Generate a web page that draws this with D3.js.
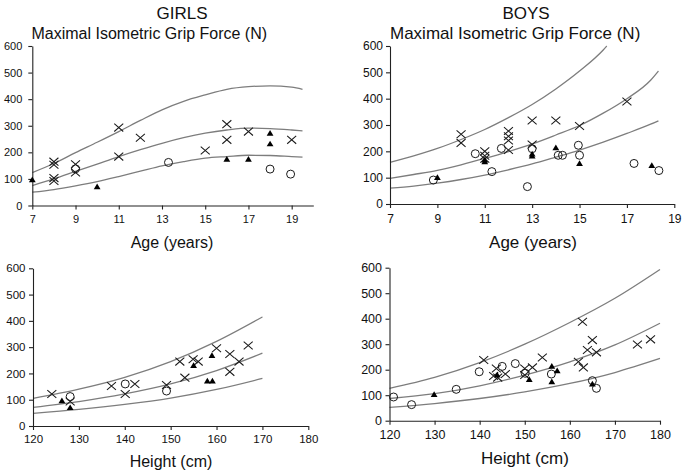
<!DOCTYPE html>
<html>
<head>
<meta charset="utf-8">
<script src="https://cdn.jsdelivr.net/npm/d3@7"></script>
<style>
  html, body { margin: 0; padding: 0; background: #fff; }
  svg { display: block; font-family: "Liberation Sans", Arial, Helvetica, sans-serif; }
</style>
</head>
<body>
<svg id="chart" width="685" height="474"></svg>
<script>
// ---------------- DATA ----------------
const forceTicks = [0, 100, 200, 300, 400, 500, 600];
const ageTicks = [7, 9, 11, 13, 15, 17, 19];
const heightTicks = [120, 130, 140, 150, 160, 170, 180];

// Girls – force vs age: reference curves
const girlsAgeCurveX = [7, 8, 9, 10, 11, 12, 13, 14, 15, 16, 17, 18, 19, 19.5];
const girlsAgeUpper  = [124, 158, 199, 238, 278, 320, 360, 392, 416, 437, 447, 450, 445, 437];
const girlsAgeMiddle = [75, 100, 128, 156, 184, 210, 234, 255, 272, 284, 291, 289, 284, 281];
const girlsAgeLower  = [50, 60, 74, 90, 109, 129, 149, 165, 178, 184, 189, 188, 184, 182];
// Girls – force vs age: individual values [age, force]
const girlsAgeCrosses = [[8,165],[8,153],[8,103],[8,92],[9,155],[9,124],[11,293],[11,184],[12,255],[15,207],[16,306],[16,247],[17,278],[19,247]];
const girlsAgeCircles = [[9,138],[13.3,162],[18,137],[18.95,118]];
const girlsAgeTriangles = [[7,97],[10,71],[16,174],[17,174],[18,272],[18,232]];

// Boys – force vs age: reference curves
const boysAgeUpperX  = [7, 8, 9, 10, 11, 12, 13, 14, 15, 16, 16.15];
const boysAgeUpper   = [158, 183, 211, 245, 283, 328, 378, 437, 505, 585, 600];
const boysAgeCurveX  = [7, 8, 9, 10, 11, 12, 13, 14, 15, 16, 17, 18, 18.33];
const boysAgeMiddle  = [97, 112, 128, 149, 173, 199, 228, 262, 298, 345, 400, 470, 505];
const boysAgeLower   = [60, 68, 79, 93, 110, 130, 152, 178, 205, 235, 268, 303, 316];
// Boys – force vs age: individual values
const boysAgeCrosses = [[10,265],[10,232],[11,200],[11,183],[11,172],[12,277],[12,257],[12,241],[12,205],[13,317],[13,226],[14,317],[15,296],[17,389]];
const boysAgeCircles = [[8.83,91],[10.6,191],[11.3,123],[11.7,211],[12.8,66],[13,210],[14.1,185],[14.28,185],[14.95,223],[15,185],[17.3,154],[18.35,127]];
const boysAgeTriangles = [[9,101],[11,167],[11,160],[13,190],[13,182],[14,214],[15,154],[18.05,146]];

// Girls – force vs height: reference curves
const girlsHeightCurveX = [120, 130, 140, 150, 160, 170];
const girlsHeightUpper  = [105, 140, 185, 245, 322, 415];
const girlsHeightMiddle = [71, 93, 122, 160, 211, 277];
const girlsHeightLower  = [48, 63, 82, 106, 139, 181];
// Girls – force vs height: individual values [height, force]
const girlsHeightCrosses = [[124.1,122],[128.1,93],[137.1,152],[140.1,122],[142.2,160],[149.1,156],[152,245],[153.1,184],[154.9,254],[156,245],[160,296],[162.9,274],[162.9,206],[164.9,245],[166.9,306]];
const girlsHeightCircles = [[128.1,112],[140.1,160],[149.1,133]];
const girlsHeightTriangles = [[126.3,96],[128.1,70],[155,230],[159,268],[158,171],[159.1,171]];

// Boys – force vs height: reference curves
const boysHeightCurveX = [120, 130, 140, 150, 160, 170, 180];
const boysHeightUpper  = [127, 170, 228, 300, 385, 480, 593];
const boysHeightMiddle = [87, 106, 137, 179, 231, 297, 382];
const boysHeightLower  = [52, 67, 87, 113, 146, 189, 244];
// Boys – force vs height: individual values
const boysHeightCircles = [[120.9,93],[124.9,63],[134.8,123],[139.9,192],[145,213],[147.9,224],[150.1,186],[155.9,183],[165,157],[165.9,127]];
const boysHeightCrosses = [[140.9,238],[143.7,205],[143.1,175],[144,169],[145.7,183],[150,205],[150,179],[151.7,209],[153.9,248],[161.9,231],[162.8,388],[163,209],[163.9,277],[165,316],[165.9,268],[175,299],[177.9,319]];
const boysHeightTriangles = [[129.9,103],[143.9,179],[151,162],[156,214],[156,153],[157.2,196],[165,144]];

const titles = { girls: "GIRLS", boys: "BOYS", sub: "Maximal Isometric Grip Force (N)", age: "Age (years)", height: "Height (cm)" };

// ---------------- DRAW ----------------
const svg = d3.select("#chart");
svg.append("rect").attr("width", 685).attr("height", 474).attr("fill", "#fff");

const panels = [
  { xDomain: [7, 20], xRange: [32.3, 313.3], yRange: [205.5, 46], xTicks: ageTicks,
    curves: [[girlsAgeCurveX, girlsAgeUpper], [girlsAgeCurveX, girlsAgeMiddle], [girlsAgeCurveX, girlsAgeLower]],
    crosses: girlsAgeCrosses, circles: girlsAgeCircles, triangles: girlsAgeTriangles,
    yPad: 6, xPad: 6, fs: 11, label: titles.age, labelX: 172, labelY: 248, labelFs: 16 },
  { xDomain: [7, 19], xRange: [390, 674.3], yRange: [204, 46], xTicks: ageTicks,
    curves: [[boysAgeUpperX, boysAgeUpper], [boysAgeCurveX, boysAgeMiddle], [boysAgeCurveX, boysAgeLower]],
    crosses: boysAgeCrosses, circles: boysAgeCircles, triangles: boysAgeTriangles,
    yPad: 3, xPad: 6, fs: 12, label: titles.age, labelX: 533, labelY: 248.3, labelFs: 17 },
  { xDomain: [120, 180], xRange: [33, 308.3], yRange: [426, 268.3], xTicks: heightTicks,
    curves: [[girlsHeightCurveX, girlsHeightUpper], [girlsHeightCurveX, girlsHeightMiddle], [girlsHeightCurveX, girlsHeightLower]],
    crosses: girlsHeightCrosses, circles: girlsHeightCircles, triangles: girlsHeightTriangles,
    yPad: 3.5, xPad: 5, fs: 11.5, label: titles.height, labelX: 171, labelY: 467.3, labelFs: 16 },
  { xDomain: [120, 180], xRange: [389.5, 660], yRange: [420.7, 267.7], xTicks: heightTicks,
    curves: [[boysHeightCurveX, boysHeightUpper], [boysHeightCurveX, boysHeightMiddle], [boysHeightCurveX, boysHeightLower]],
    crosses: boysHeightCrosses, circles: boysHeightCircles, triangles: boysHeightTriangles,
    yPad: 3.5, xPad: 5.3, fs: 12.5, label: titles.height, labelX: 525, labelY: 464, labelFs: 17 }
];

panels.forEach(p => {
  const x = d3.scaleLinear().domain(p.xDomain).range(p.xRange);
  const y = d3.scaleLinear().domain([0, 600]).range(p.yRange);
  const g = svg.append("g");

  // reference curves
  const line = d3.line().x(d => x(d[0])).y(d => y(d[1])).curve(d3.curveMonotoneX);
  p.curves.forEach(([xs, ys]) => {
    g.append("path").datum(xs.map((v, i) => [v, ys[i]]))
      .attr("d", line).attr("fill", "none")
      .attr("stroke", "#7d7d7d").attr("stroke-width", 1.3);
  });

  // axes
  const yAxis = d3.axisLeft(y).tickValues(forceTicks).tickSize(4).tickSizeOuter(0).tickPadding(p.yPad);
  const xAxis = d3.axisBottom(x).tickValues(p.xTicks).tickSize(4).tickSizeOuter(0).tickPadding(p.xPad).tickFormat(d3.format("d"));
  const ya = g.append("g").attr("transform", `translate(${p.xRange[0]},0)`).call(yAxis);
  const xa = g.append("g").attr("transform", `translate(0,${p.yRange[0]})`).call(xAxis);
  [ya, xa].forEach(a => {
    a.selectAll("path, line").attr("stroke", "#222").attr("stroke-width", 1.1);
    a.selectAll("text").attr("fill", "#111").style("font-size", p.fs + "px")
      .style("font-family", '"Liberation Sans", Arial, sans-serif');
  });

  // markers
  g.selectAll(".cross").data(p.crosses).join("path")
    .attr("d", d => { const cx = x(d[0]), cy = y(d[1]), w = 4.5, h = 3.9;
      return `M${cx-w},${cy-h}L${cx+w},${cy+h}M${cx-w},${cy+h}L${cx+w},${cy-h}`; })
    .attr("stroke", "#1a1a1a").attr("stroke-width", 1.05).attr("fill", "none");
  g.selectAll(".circ").data(p.circles).join("circle")
    .attr("cx", d => x(d[0])).attr("cy", d => y(d[1])).attr("r", 4)
    .attr("fill", "none").attr("stroke", "#1a1a1a").attr("stroke-width", 1);
  g.selectAll(".tri").data(p.triangles).join("path")
    .attr("d", d => { const cx = x(d[0]), cy = y(d[1]);
      return `M${cx},${cy-3.2}L${cx+3.4},${cy+2.5}L${cx-3.4},${cy+2.5}Z`; })
    .attr("fill", "#000");

  // axis label
  svg.append("text").attr("x", p.labelX).attr("y", p.labelY).attr("text-anchor", "middle")
    .style("font-size", p.labelFs + "px").attr("fill", "#111").text(p.label);
});

// titles
svg.append("text").attr("x", 182).attr("y", 19).attr("text-anchor", "middle")
  .style("font-size", "17px").attr("fill", "#111").text(titles.girls);
svg.append("text").attr("x", 526).attr("y", 19).attr("text-anchor", "middle")
  .style("font-size", "17px").attr("fill", "#111").text(titles.boys);
svg.append("text").attr("x", 31.5).attr("y", 38.5)
  .style("font-size", "16px").attr("fill", "#111").text(titles.sub);
svg.append("text").attr("x", 390).attr("y", 38.5)
  .style("font-size", "17px").attr("fill", "#111").text(titles.sub);
</script>
</body>
</html>
